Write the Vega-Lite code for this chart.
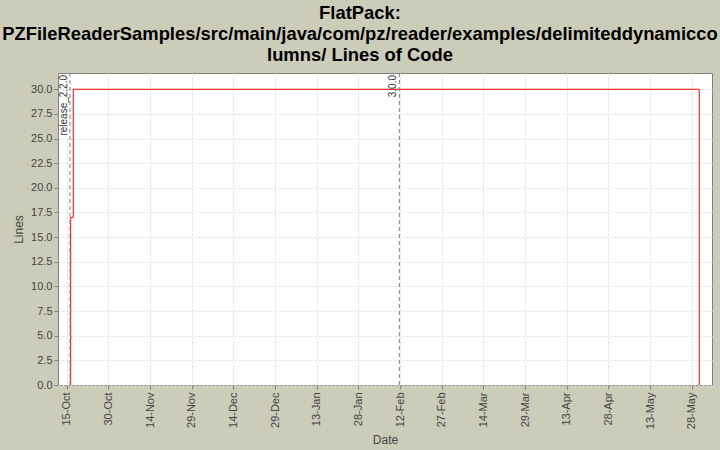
{
  "$schema": "https://vega.github.io/schema/vega-lite/v6.json",
  "autosize": "none",
  "width": 654,
  "height": 312,
  "padding": {"left": 58, "top": 73, "right": 8, "bottom": 65},
  "background": "#CCCCBB",
  "title": {
    "text": ["FlatPack:", "PZFileReaderSamples/src/main/java/com/pz/reader/examples/delimiteddynamicco", "lumns/ Lines of Code"],
    "font": "Liberation Sans",
    "fontSize": 18.4,
    "fontWeight": "bold",
    "color": "#000000",
    "lineHeight": 21,
    "anchor": "middle",
    "dx": -25,
    "offset": 8
  },
  "config": {
    "view": {"fill": "#FFFFFF", "stroke": "#808080", "strokeWidth": 1},
    "axis": {
      "labelFont": "Liberation Sans",
      "labelFontSize": 11,
      "labelColor": "#444444",
      "labelOverlap": false,
      "titleFont": "Liberation Sans",
      "titleFontSize": 12,
      "titleFontWeight": "normal",
      "titleColor": "#444444",
      "domainColor": "#808080",
      "tickColor": "#808080",
      "tickSize": 4,
      "gridColor": "#DDDDDD",
      "gridDash": [2, 2],
      "gridWidth": 1
    }
  },
  "datasets": {
    "loc": [
      {"seq": 1, "date": "2006-10-16T10:30:00Z", "lines": 0},
      {"seq": 2, "date": "2006-10-16T10:30:00Z", "lines": 17},
      {"seq": 3, "date": "2006-10-17T09:00:00Z", "lines": 30},
      {"seq": 4, "date": "2007-05-30T17:00:00Z", "lines": 30},
      {"seq": 5, "date": "2007-05-30T17:00:00Z", "lines": 0}
    ],
    "releases": [
      {"date": "2006-10-16T04:30:00Z", "label": "release_2.2.0", "lines": 31.65},
      {"date": "2007-02-11T18:00:00Z", "label": "3.0.0", "lines": 31.65}
    ]
  },
  "encoding": {
    "x": {
      "field": "date",
      "type": "temporal",
      "scale": {
        "type": "utc",
        "domain": [
          {"year": 2006, "month": 10, "date": 11, "hours": 21, "utc": true},
          {"year": 2007, "month": 6, "date": 4, "hours": 7, "utc": true}
        ]
      },
      "axis": {
        "title": "Date",
        "format": "%d-%b",
        "labelAngle": 270,
        "labelAlign": "right",
        "labelBaseline": "middle",
        "labelPadding": 3,
        "titlePadding": 6,
        "domain": false,
        "values": [
          {"year": 2006, "month": 10, "date": 15, "utc": true},
          {"year": 2006, "month": 10, "date": 30, "utc": true},
          {"year": 2006, "month": 11, "date": 14, "utc": true},
          {"year": 2006, "month": 11, "date": 29, "utc": true},
          {"year": 2006, "month": 12, "date": 14, "utc": true},
          {"year": 2006, "month": 12, "date": 29, "utc": true},
          {"year": 2007, "month": 1, "date": 13, "utc": true},
          {"year": 2007, "month": 1, "date": 28, "utc": true},
          {"year": 2007, "month": 2, "date": 12, "utc": true},
          {"year": 2007, "month": 2, "date": 27, "utc": true},
          {"year": 2007, "month": 3, "date": 14, "utc": true},
          {"year": 2007, "month": 3, "date": 29, "utc": true},
          {"year": 2007, "month": 4, "date": 13, "utc": true},
          {"year": 2007, "month": 4, "date": 28, "utc": true},
          {"year": 2007, "month": 5, "date": 13, "utc": true},
          {"year": 2007, "month": 5, "date": 28, "utc": true}
        ]
      }
    },
    "y": {
      "field": "lines",
      "type": "quantitative",
      "scale": {"domain": [0, 31.65], "nice": false, "zero": false},
      "axis": {
        "title": "Lines",
        "format": ".1f",
        "values": [0, 2.5, 5, 7.5, 10, 12.5, 15, 17.5, 20, 22.5, 25, 27.5, 30],
        "labelPadding": 2,
        "titlePadding": 5,
        "domain": false
      }
    }
  },
  "layer": [
    {
      "data": {"name": "loc"},
      "mark": {"type": "line", "interpolate": "step-after", "color": "#FF0000", "strokeWidth": 1},
      "encoding": {
        "order": {"field": "seq", "type": "quantitative"}
      }
    },
    {
      "data": {"name": "releases"},
      "mark": {"type": "rule", "color": "#808080", "strokeDash": [4, 3], "strokeWidth": 1},
      "encoding": {
        "y": {"value": 0},
        "y2": {"value": 312}
      }
    },
    {
      "data": {"name": "releases"},
      "mark": {
        "type": "text",
        "angle": 270,
        "align": "right",
        "baseline": "bottom",
        "dx": -2,
        "dy": -1,
        "font": "Liberation Sans",
        "fontSize": 10,
        "color": "#333333"
      },
      "encoding": {
        "text": {"field": "label"}
      }
    }
  ]
}
